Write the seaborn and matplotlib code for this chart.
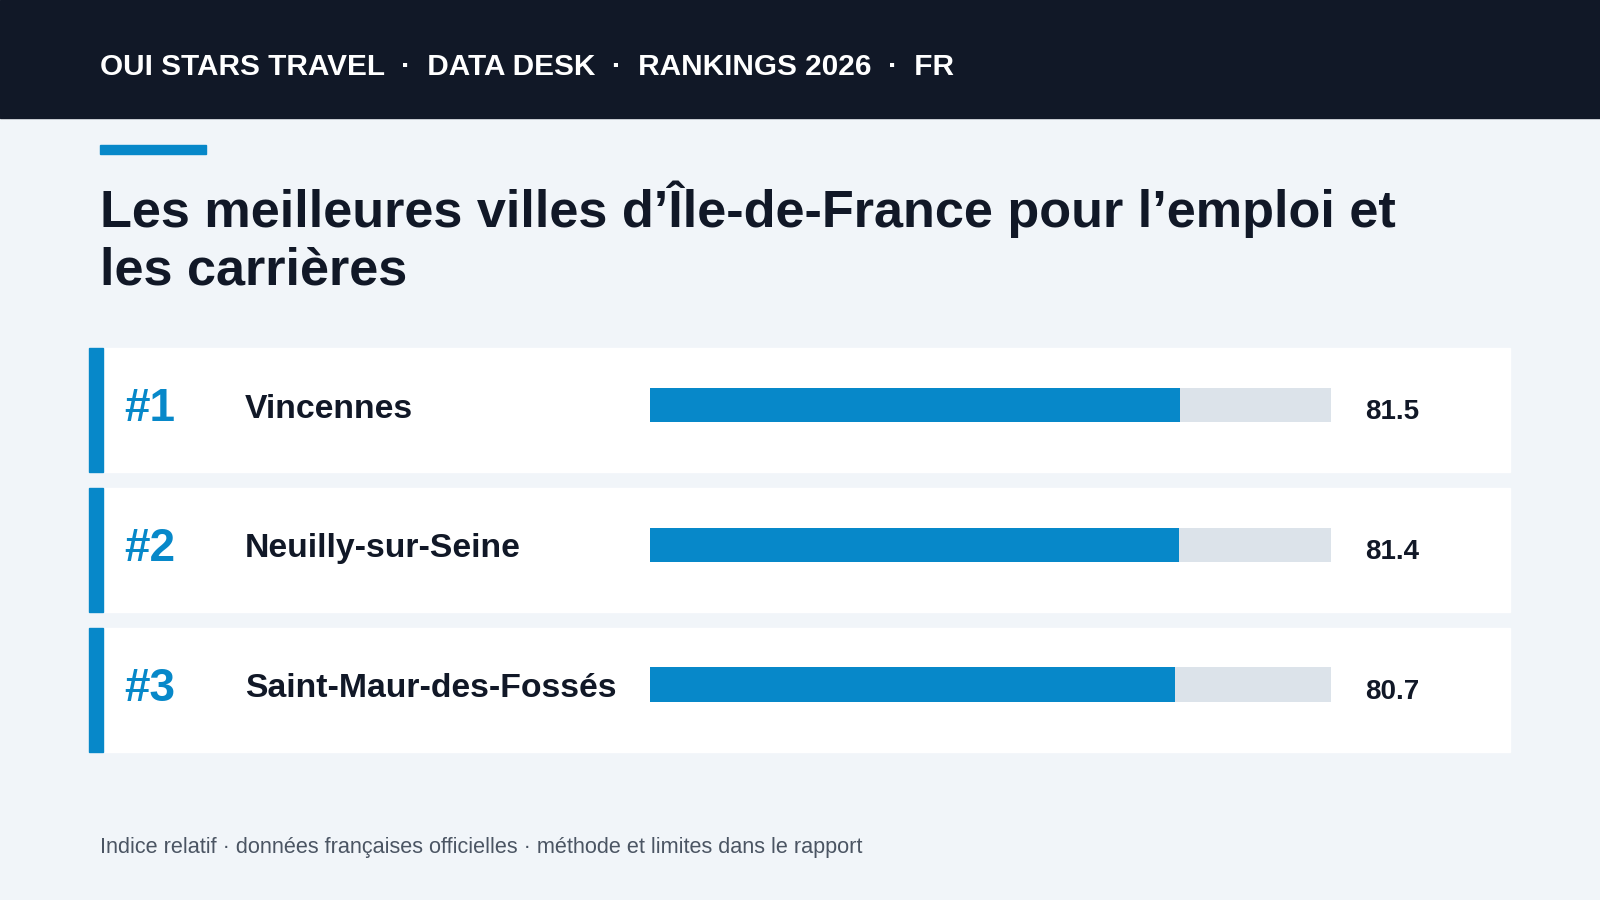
import matplotlib
matplotlib.use("Agg")
import matplotlib.pyplot as plt
import matplotlib.patches as mpatches
import pandas as pd
import seaborn as sns

# data
cities = ["Vincennes", "Neuilly-sur-Seine", "Saint-Maur-des-Fossés"]
ranks = ["#1", "#2", "#3"]
scores = [81.5, 81.4, 80.7]
track_max = 104.7

BLUE = "#0788c9"
DARK = "#111827"
BG = "#f1f5f9"
TRACK = "#dce3ea"

sns.set_theme(style="white")
plt.rcParams["font.family"] = ["Liberation Sans", "DejaVu Sans"]

W, H = 1568, 882
fig = plt.figure(figsize=(16, 9), dpi=100)
fig.patch.set_facecolor(BG)
bg = fig.add_axes([0, 0, 1, 1])
bg.set_xlim(0, W)
bg.set_ylim(H, 0)
bg.axis("off")

# header
bg.add_patch(mpatches.Rectangle((0, 0), W, 116, color=DARK))
bg.text(98, 66, "OUI STARS TRAVEL  ·  DATA DESK  ·  RANKINGS 2026  ·  FR",
        color="white", fontsize=21.4, fontweight="bold", va="center")
bg.add_patch(mpatches.Rectangle((98, 142), 104, 9, color=BLUE))
bg.text(98, 205, "Les meilleures villes d’Île-de-France pour l’emploi et",
        color=DARK, fontsize=37.6, fontweight="bold", va="center")
bg.text(98, 266, "les carrières", color=DARK, fontsize=37.6, fontweight="bold", va="center")

row_y = [397, 534, 671]
for y, rank, city, s in zip(row_y, ranks, cities, scores):
    bg.add_patch(mpatches.Rectangle((87, y - 56), 1393, 122, color="white"))
    bg.add_patch(mpatches.Rectangle((87, y - 56), 14, 122, color=BLUE))
    bg.text(122, y + 4, rank, color=BLUE, fontsize=33, fontweight="bold", va="center")
    bg.text(240, y + 4, city, color=DARK, fontsize=24.3, fontweight="bold", va="center")
    bg.text(1338, y + 7, f"{s:.1f}", color=DARK, fontsize=20, fontweight="bold", va="center")

bg.text(98, 831, "Indice relatif · données françaises officielles · méthode et limites dans le rapport",
        color="#4b5563", fontsize=15.6, va="center")

# bars
top = row_y[0] - 68.5
bot = row_y[-1] + 68.5
ax = fig.add_axes([637 / W, 1 - bot / H, (1304 - 637) / W, (bot - top) / H])
ax.patch.set_alpha(0)
df = pd.DataFrame({"city": cities, "score": scores, "track": [track_max] * 3})
sns.barplot(data=df, x="track", y="city", color=TRACK, width=34 / 137, ax=ax,
            saturation=1, edgecolor="none")
sns.barplot(data=df, x="score", y="city", color=BLUE, width=34 / 137, ax=ax,
            saturation=1, edgecolor="none")
ax.set_xlim(0, track_max)
ax.set_ylim(2.5, -0.5)
ax.axis("off")

fig.savefig("out.png", dpi=100, facecolor=BG)
